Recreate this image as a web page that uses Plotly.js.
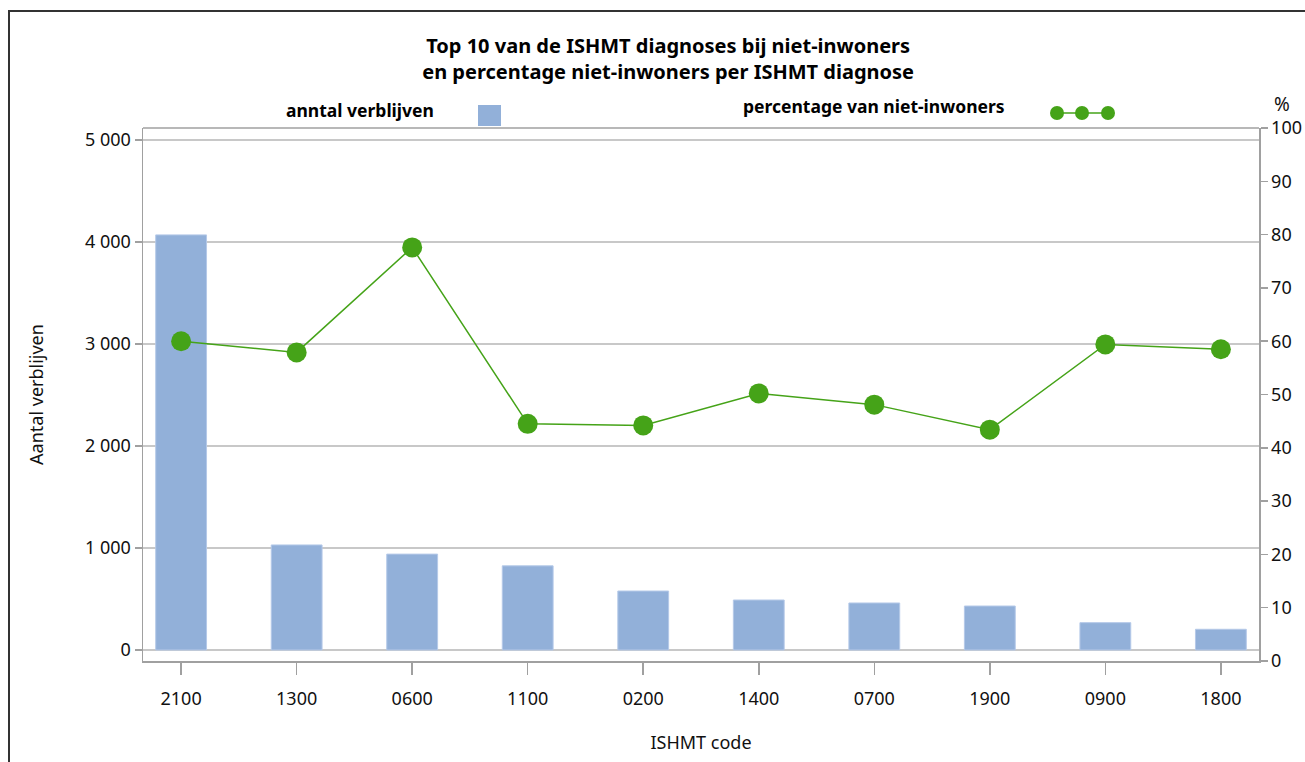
<!DOCTYPE html>
<html>
<head>
<meta charset="utf-8">
<script src="https://cdn.plot.ly/plotly-3.0.1.min.js"></script>
<style>
html,body{margin:0;padding:0;background:#fff;}
#wrap{position:relative;width:1305px;height:762px;overflow:hidden;}
#chart{position:absolute;left:0;top:0;width:1305px;height:762px;}
#frame{position:absolute;left:8px;top:10px;width:1400px;height:900px;border-left:2px solid #333;border-top:2px solid #333;pointer-events:none;}
</style>
</head>
<body>
<div id="wrap"><div id="chart"></div><div id="frame"></div></div>
<script>
const categories = ["2100","1300","0600","1100","0200","1400","0700","1900","0900","1800"];
const verblijven = [4070, 1030, 940, 825, 578, 490, 461, 431, 268, 203];
const percentage = [60.0, 57.9, 77.6, 44.5, 44.2, 50.2, 48.1, 43.4, 59.4, 58.5];
const leftTicks = [0, 1000, 2000, 3000, 4000, 5000];
const rightTicks = [0,10,20,30,40,50,60,70,80,90,100];

const FONT = "Noto Sans, Open Sans, DejaVu Sans, sans-serif";
const barColor = "#92b0d9";
const lineColor = "#45a318";

const traces = [
  {
    type: "bar", x: categories, y: verblijven, yaxis: "y",
    width: 0.44,
    marker: {color: barColor, line: {color: "#b5c9e8", width: 1}},
    hoverinfo: "x+y", showlegend: false
  },
  {
    type: "scatter", mode: "lines+markers", x: categories, y: percentage, yaxis: "y2",
    line: {color: lineColor, width: 1.5},
    marker: {color: lineColor, size: 20, symbol: "circle"},
    showlegend: false
  }
];

const layout = {
  width: 1305, height: 762,
  margin: {l: 143, r: 46, t: 128, b: 101},
  paper_bgcolor: "#fff", plot_bgcolor: "#fff",
  separators: ", ",
  font: {family: FONT, size: 18, color: "#111"},
  title: {
    text: "<b>Top 10 van de ISHMT diagnoses bij niet-inwoners<br>en percentage niet-inwoners per ISHMT diagnose</b>",
    font: {family: FONT, size: 20, color: "#000"},
    x: 0.512, xanchor: "center", y: 0.931, yanchor: "middle"
  },
  bargap: 0.56,
  xaxis: {
    type: "category", range: [-0.33, 9.33],
    showline: true, linecolor: "#a0a0a0", linewidth: 1.5, mirror: false,
    ticks: "outside", ticklen: 12, tickcolor: "#a0a0a0", tickwidth: 1.5,
    ticklabelstandoff: 9,
    showgrid: false, zeroline: false,
    tickfont: {family: FONT, size: 18, color: "#111"},
    title: {text: "ISHMT code", font: {family: FONT, size: 18, color: "#111"}, standoff: 27}
  },
  yaxis: {
    range: [-108, 5118],
    tickvals: leftTicks, tickformat: ",d",
    showline: true, linecolor: "#a0a0a0", linewidth: 1.5,
    ticks: "outside", ticklen: 7, tickcolor: "#a0a0a0", tickwidth: 1.5,
    showgrid: true, gridcolor: "#c8c8c8", gridwidth: 1.5,
    zeroline: false,
    tickfont: {family: FONT, size: 18, color: "#111"},
    title: {text: "Aantal verblijven", font: {family: FONT, size: 18, color: "#111"}, standoff: 36}
  },
  yaxis2: {
    overlaying: "y", side: "right", range: [0, 100],
    tickvals: rightTicks,
    showline: true, linecolor: "#a0a0a0", linewidth: 1.5,
    ticks: "outside", ticklen: 7, tickcolor: "#a0a0a0", tickwidth: 1.5,
    showgrid: false, zeroline: false,
    tickfont: {family: FONT, size: 18, color: "#111"}
  },
  shapes: [
    {type: "line", xref: "paper", yref: "paper", x0: 0, x1: 1, y0: 1, y1: 1, line: {color: "#a0a0a0", width: 1.5}},
    {type: "rect", xref: "paper", yref: "paper", x0: (478-143)/1116, x1: (501-143)/1116, y0: (661-126)/533, y1: (661-105)/533, fillcolor: barColor, line: {width: 0}},
    {type: "line", xref: "paper", yref: "paper", x0: (1057-143)/1116, x1: (1108-143)/1116, y0: (661-113)/533, y1: (661-113)/533, line: {color: lineColor, width: 1.5}},
    {type: "circle", xref: "paper", yref: "paper", x0: (1050-143)/1116, x1: (1064-143)/1116, y0: (661-120)/533, y1: (661-106)/533, fillcolor: lineColor, line: {width: 0}},
    {type: "circle", xref: "paper", yref: "paper", x0: (1075-143)/1116, x1: (1089-143)/1116, y0: (661-120)/533, y1: (661-106)/533, fillcolor: lineColor, line: {width: 0}},
    {type: "circle", xref: "paper", yref: "paper", x0: (1101-143)/1116, x1: (1115-143)/1116, y0: (661-120)/533, y1: (661-106)/533, fillcolor: lineColor, line: {width: 0}}
  ],
  annotations: [
    {text: "<b>anntal verblijven</b>", xref: "paper", yref: "paper", x: (436-143)/1116, xanchor: "right", y: (661-110)/533, yanchor: "middle", showarrow: false, font: {family: FONT, size: 17.5, color: "#000"}},
    {text: "<b>percentage van niet-inwoners</b>", xref: "paper", yref: "paper", x: (1007-143)/1116, xanchor: "right", y: (661-106)/533, yanchor: "middle", showarrow: false, font: {family: FONT, size: 17.5, color: "#000"}},
    {text: "%", xref: "paper", yref: "paper", x: (1272-143)/1116, xanchor: "left", y: (661-104)/533, yanchor: "middle", showarrow: false, font: {family: FONT, size: 19, color: "#111"}}
  ]
};

Plotly.newPlot("chart", traces, layout, {displayModeBar: false, staticPlot: true});
</script>
</body>
</html>
